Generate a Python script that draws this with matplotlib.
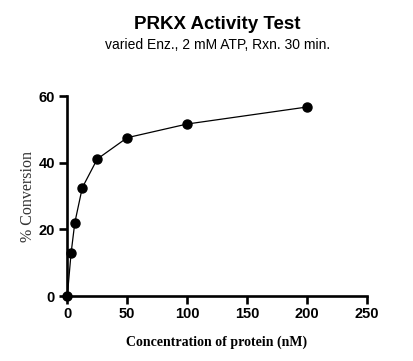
import matplotlib
matplotlib.use("Agg")
import matplotlib.pyplot as plt

# Dados
concentracao = [0, 3.125, 6.25, 12.5, 25, 50, 100, 200]
conversao = [0, 12.8, 22.0, 32.5, 41.1, 47.5, 51.6, 56.7]
xticks = [0, 50, 100, 150, 200, 250]
yticks = [0, 20, 40, 60]

fig = plt.figure(figsize=(4.13, 3.61), dpi=100)
ax = fig.add_axes([0.163, 0.180, 0.725, 0.554])

ax.plot(concentracao, conversao, color="black", lw=0.9, marker="o",
        markersize=6.5, clip_on=False, zorder=3)

ax.set_xlim(0, 250)
ax.set_ylim(0, 60)
ax.set_xticks(xticks)
ax.set_yticks(yticks)

for s in ["top", "right"]:
    ax.spines[s].set_visible(False)
for s in ["left", "bottom"]:
    ax.spines[s].set_linewidth(1.9)

ax.tick_params(direction="out", length=6, width=1.9)
ax.tick_params(axis="x", pad=2)
ax.tick_params(axis="y", pad=3)
for lbl in ax.get_xticklabels() + ax.get_yticklabels():
    lbl.set_fontfamily("Liberation Sans")
    lbl.set_fontweight("bold")
    lbl.set_fontsize(10.5)

ax.set_xlabel("Concentration of protein (nM)", family="Liberation Serif",
              fontweight="bold", fontsize=10, labelpad=10)
ax.set_ylabel("% Conversion", family="Liberation Serif", fontsize=11.5,
              color="#333333", labelpad=2)

fig.text(0.526, 0.931, "PRKX Activity Test", ha="center", va="center",
         family="Liberation Sans", fontweight="bold", fontsize=13.5)
fig.text(0.526, 0.875, "varied Enz., 2 mM ATP, Rxn. 30 min.", ha="center",
         va="center", family="Liberation Sans", fontsize=10)

fig.savefig("out.png", dpi=100)
